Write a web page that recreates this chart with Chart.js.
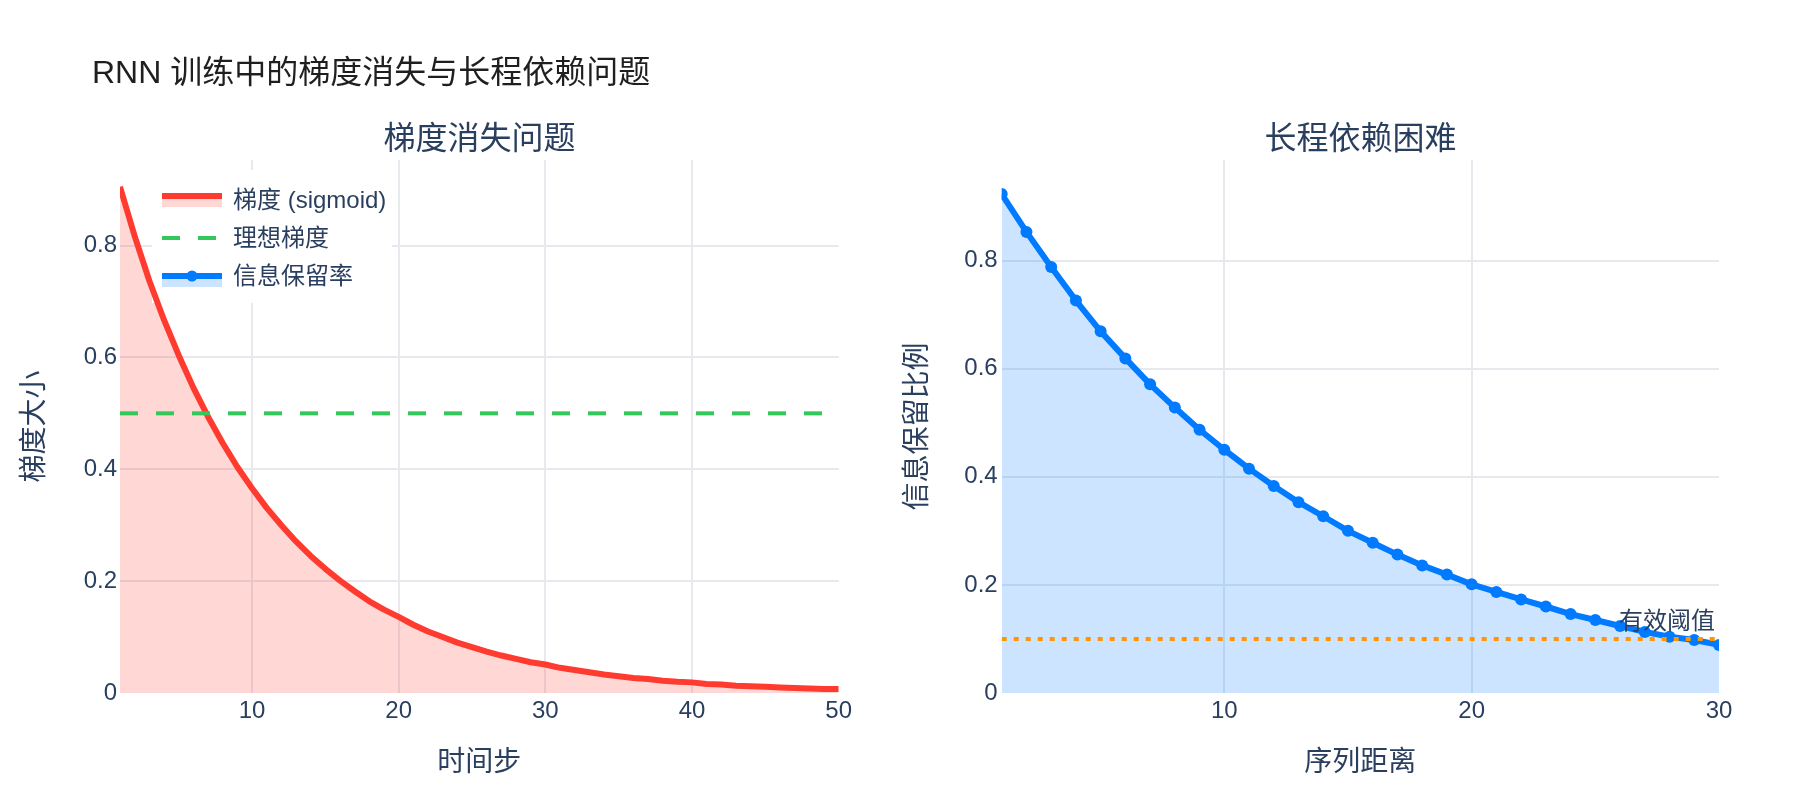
<!DOCTYPE html>
<html>
<head>
<meta charset="utf-8">
<script src="https://cdn.jsdelivr.net/npm/chart.js@4.4.1/dist/chart.umd.min.js"></script>
<style>
    body { margin: 0; background: #fff; }
    #page { position: relative; width: 1800px; height: 800px; overflow: hidden;
            font-family: "Liberation Sans", "Noto Sans CJK SC", sans-serif; }
    canvas { position: absolute; top: 0; }
    .title { position: absolute; white-space: nowrap; line-height: 40px; }
    .sub { font-size: 32px; color: #2a3f5f; text-align: center; top: 118px; }
</style>
</head>
<body>
<div id="page">
    <canvas id="gradChart" width="900" height="800" style="left:0"></canvas>
    <canvas id="depChart" width="900" height="800" style="left:900px"></canvas>
    <div class="title" style="left:92px; top:52px; font-size:32px; color:#1f1f1f;">RNN 训练中的梯度消失与长程依赖问题</div>
    <div class="title sub" style="left:120px; width:719px;">梯度消失问题</div>
    <div class="title sub" style="left:1002px; width:717px;">长程依赖困难</div>
</div>
<script>
// Data
const timeSteps = [1, 2, 3, 4, 5, 6, 7, 8, 9, 10, 11, 12, 13, 14, 15, 16, 17, 18, 19, 20,
    21, 22, 23, 24, 25, 26, 27, 28, 29, 30, 31, 32, 33, 34, 35, 36, 37, 38, 39, 40,
    41, 42, 43, 44, 45, 46, 47, 48, 49, 50];
const gradientMagnitude = [0.905, 0.817, 0.737, 0.667, 0.604, 0.546, 0.494, 0.447, 0.404, 0.366,
    0.331, 0.300, 0.271, 0.245, 0.222, 0.201, 0.182, 0.164, 0.149, 0.136,
    0.122, 0.110, 0.100, 0.090, 0.082, 0.074, 0.067, 0.061, 0.055, 0.051,
    0.045, 0.041, 0.037, 0.033, 0.030, 0.027, 0.025, 0.022, 0.020, 0.019,
    0.016, 0.015, 0.013, 0.012, 0.011, 0.010, 0.009, 0.008, 0.007, 0.007];
const idealGradient = 0.5;

const seqDistance = [1, 2, 3, 4, 5, 6, 7, 8, 9, 10, 11, 12, 13, 14, 15,
    16, 17, 18, 19, 20, 21, 22, 23, 24, 25, 26, 27, 28, 29, 30];
const retentionRate = [0.923, 0.853, 0.788, 0.726, 0.669, 0.619, 0.571, 0.528, 0.487, 0.450,
    0.415, 0.383, 0.353, 0.327, 0.300, 0.278, 0.256, 0.236, 0.219, 0.201,
    0.187, 0.173, 0.160, 0.146, 0.135, 0.124, 0.113, 0.104, 0.098, 0.089];
const effectiveThreshold = 0.1;

const yTicks = [0, 0.2, 0.4, 0.6, 0.8];
const stepTicks = [10, 20, 30, 40, 50];
const distanceTicks = [10, 20, 30];

const FONT = '"Liberation Sans", "Noto Sans CJK SC", sans-serif';
const TEXT = '#2a3f5f';
const GRID = '#e7e9ee';
const RED = '#ff3b30';
const GREEN = '#34c759';
const BLUE = '#007aff';
const ORANGE = '#ff9500';

function fixedTicks(values) {
    return scale => { scale.ticks = values.map(v => ({ value: v })); };
}

function axes(opts) {
    return {
        x: {
            type: 'linear', min: opts.xMin, max: opts.xMax,
            afterBuildTicks: fixedTicks(opts.xTicks),
            afterFit: s => { s.height = 107; },
            border: { display: false },
            grid: { color: c => c.tick && c.tick.value === opts.xMax ? 'transparent' : GRID, lineWidth: 2, drawTicks: false },
            ticks: { color: TEXT, font: { family: FONT, size: 24 }, padding: 4, maxRotation: 0 },
            title: { display: true, text: opts.xTitle, color: TEXT, font: { family: FONT, size: 28 }, padding: { top: 0, bottom: 20 } }
        },
        y: {
            min: 0, max: opts.yMax,
            afterBuildTicks: fixedTicks(yTicks),
            afterFit: s => { s.width = opts.yWidth; },
            border: { display: false },
            grid: { color: c => c.tick && c.tick.value === 0 ? 'transparent' : GRID, lineWidth: 2, drawTicks: false },
            ticks: { color: TEXT, font: { family: FONT, size: 24 }, padding: opts.yPad,
                     callback: v => v === 0 ? '0' : String(v) },
            title: { display: true, text: opts.yTitle, color: TEXT, font: { family: FONT, size: 28 }, padding: { top: opts.yTitlePad, bottom: 0 } }
        }
    };
}

// Legend box in the top-left of the first plot (covers the fill, below the lines)
const legendBox = {
    id: 'legendBox',
    beforeDatasetsDraw(chart) {
        const ctx = chart.ctx;
        ctx.save();
        ctx.fillStyle = '#fff';
        ctx.fillRect(152, 170, 240, 133);
        ctx.restore();
    },
    afterDraw(chart) {
        const ctx = chart.ctx;
        const x0 = 162, x1 = 222;
        ctx.save();
        // row 1: gradient
        ctx.fillStyle = 'rgba(255,59,48,0.2)';
        ctx.fillRect(x0, 196, x1 - x0, 11);
        ctx.strokeStyle = RED; ctx.lineWidth = 6;
        ctx.beginPath(); ctx.moveTo(x0, 196); ctx.lineTo(x1, 196); ctx.stroke();
        // row 2: ideal gradient
        ctx.strokeStyle = GREEN; ctx.lineWidth = 4; ctx.setLineDash([18, 18]);
        ctx.beginPath(); ctx.moveTo(x0, 238); ctx.lineTo(x1, 238); ctx.stroke();
        ctx.setLineDash([]);
        // row 3: retention
        ctx.fillStyle = 'rgba(0,122,255,0.2)';
        ctx.fillRect(x0, 276, x1 - x0, 11);
        ctx.strokeStyle = BLUE; ctx.lineWidth = 6;
        ctx.beginPath(); ctx.moveTo(x0, 276); ctx.lineTo(x1, 276); ctx.stroke();
        ctx.fillStyle = BLUE;
        ctx.beginPath(); ctx.arc((x0 + x1) / 2, 276, 5.5, 0, Math.PI * 2); ctx.fill();
        // labels
        ctx.fillStyle = TEXT;
        ctx.font = '24px ' + FONT;
        ctx.textBaseline = 'middle';
        ctx.fillText('梯度 (sigmoid)', 233, 201);
        ctx.fillText('理想梯度', 233, 239);
        ctx.fillText('信息保留率', 233, 277);
        ctx.restore();
    }
};

const thresholdLabel = {
    id: 'thresholdLabel',
    afterDraw(chart) {
        const { ctx, chartArea, scales } = chart;
        const y = scales.y.getPixelForValue(effectiveThreshold);
        ctx.save();
        ctx.font = '24px ' + FONT;
        ctx.fillStyle = TEXT;
        ctx.textAlign = 'right';
        ctx.textBaseline = 'middle';
        ctx.fillText('有效阈值', chartArea.right - 4, y - 17);
        ctx.restore();
    }
};

// Left: vanishing gradient
new Chart(document.getElementById('gradChart'), {
    type: 'line',
    data: {
        datasets: [
            {
                label: '理想梯度',
                data: [{ x: timeSteps[0], y: idealGradient }, { x: timeSteps[timeSteps.length - 1], y: idealGradient }],
                borderColor: GREEN, borderWidth: 4, borderDash: [18, 18],
                fill: false, pointRadius: 0, order: 0
            },
            {
                label: '梯度 (sigmoid)',
                data: timeSteps.map((x, i) => ({ x, y: gradientMagnitude[i] })),
                borderColor: RED, backgroundColor: 'rgba(255,59,48,0.2)', borderWidth: 6,
                borderJoinStyle: 'round', fill: 'origin', pointRadius: 0, tension: 0, clip: 0, order: 1
            }
        ]
    },
    options: {
        responsive: false, animation: false,
        layout: { padding: { top: 160, right: 61.3, left: 0, bottom: 0 } },
        plugins: { legend: { display: false }, tooltip: { enabled: false }, filler: { drawTime: 'beforeDatasetsDraw' } },
        scales: axes({ xMin: 1, xMax: 50, xTicks: stepTicks, xTitle: '时间步', yMax: 0.953,
                       yWidth: 120, yPad: 3, yTitle: '梯度大小', yTitlePad: 18 })
    },
    plugins: [legendBox]
});

// Right: long-range dependency
new Chart(document.getElementById('depChart'), {
    type: 'line',
    data: {
        datasets: [
            {
                label: '有效阈值',
                data: [{ x: seqDistance[0], y: effectiveThreshold }, { x: seqDistance[seqDistance.length - 1], y: effectiveThreshold }],
                borderColor: ORANGE, borderWidth: 4, borderDash: [5, 7],
                fill: false, pointRadius: 0, order: 0
            },
            {
                label: '信息保留率',
                data: seqDistance.map((x, i) => ({ x, y: retentionRate[i] })),
                borderColor: BLUE, backgroundColor: 'rgba(0,122,255,0.2)', borderWidth: 6,
                borderJoinStyle: 'round', fill: 'origin', tension: 0, clip: 0,
                pointRadius: 6, pointBackgroundColor: BLUE, pointBorderWidth: 0, order: 1
            }
        ]
    },
    options: {
        responsive: false, animation: false,
        layout: { padding: { top: 160, right: 81, left: 0, bottom: 0 } },
        plugins: { legend: { display: false }, tooltip: { enabled: false } },
        scales: axes({ xMin: 1, xMax: 30, xTicks: distanceTicks, xTitle: '序列距离', yMax: 0.986,
                       yWidth: 101.7, yPad: 4, yTitle: '信息保留比例', yTitlePad: 1 })
    },
    plugins: [thresholdLabel]
});
</script>
</body>
</html>
